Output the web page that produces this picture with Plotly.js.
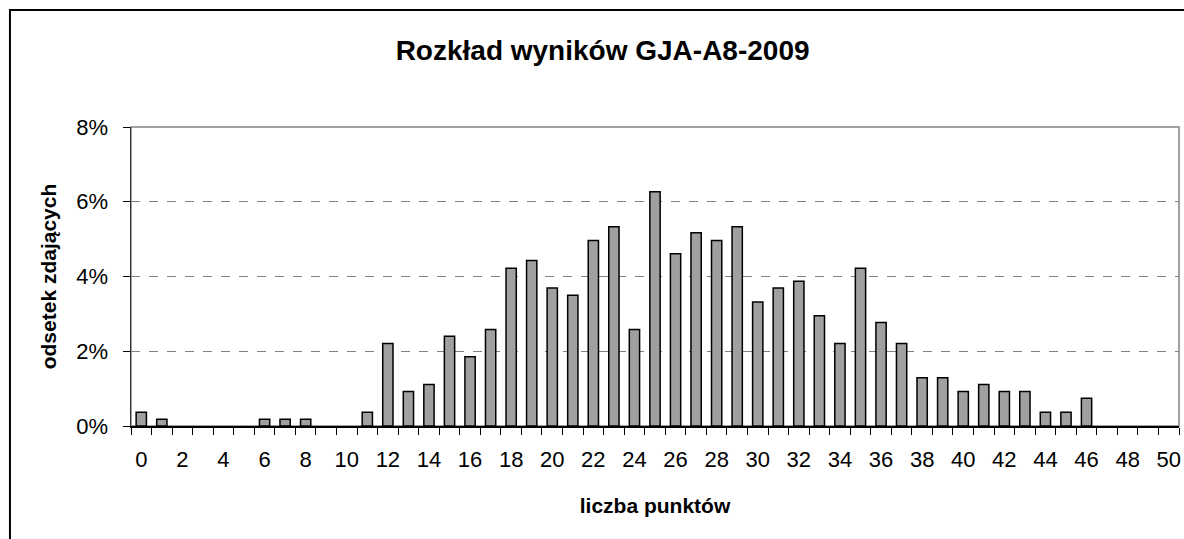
<!DOCTYPE html>
<html>
<head>
<meta charset="utf-8">
<script src="https://cdn.plot.ly/plotly-3.0.1.min.js"></script>
<style>
  body { margin: 0; background: #fff; }
  #chart { width: 1184px; height: 539px; }
</style>
</head>
<body>
<div id="chart"></div>
<script>
// liczba punktów 0..50
var points = ['0','1','2','3','4','5','6','7','8','9','10','11','12','13','14','15','16','17','18','19','20',
  '21','22','23','24','25','26','27','28','29','30','31','32','33','34','35','36','37','38','39','40',
  '41','42','43','44','45','46','47','48','49','50'];
// odsetek zdajacych (%)
var share = [0.37, 0.18, 0, 0, 0, 0, 0.18, 0.18, 0.18, 0, 0, 0.37, 2.21, 0.92, 1.11, 2.4, 1.85,
  2.58, 4.22, 4.43, 3.69, 3.5, 4.96, 5.33, 2.58, 6.27, 4.61, 5.17, 4.96, 5.33, 3.32, 3.69, 3.87,
  2.95, 2.21, 4.22, 2.77, 2.21, 1.29, 1.29, 0.92, 1.11, 0.92, 0.92, 0.37, 0.37, 0.74, 0, 0, 0, 0];
var xTickLabels = ['0','2','4','6','8','10','12','14','16','18','20','22','24','26','28','30',
  '32','34','36','38','40','42','44','46','48','50'];
var yTicks = [0, 0.02, 0.04, 0.06, 0.08];

var font = 'Arial, "Liberation Sans", sans-serif';

var data = [{
  type: 'bar',
  x: points,
  y: share.map(v => v / 100),
  marker: {
    color: '#a0a0a0',
    // no outline on empty bars, Excel draws nothing there
    line: {color: '#000', width: share.map(v => v > 0 ? 1.5 : 0)}
  },
  hoverinfo: 'x+y'
}];

var layout = {
  width: 1184,
  height: 539,
  margin: {l: 131, r: 5, t: 127, b: 113},
  paper_bgcolor: '#fff',
  plot_bgcolor: '#fff',
  font: {family: font, size: 22, color: '#000'},
  showlegend: false,
  bargap: 0.5,
  title: {
    text: '<b>Rozkład wyników GJA-A8-2009</b>',
    font: {family: font, size: 28, color: '#000'},
    x: 0.45, xref: 'paper', xanchor: 'center',
    y: 0.907, yref: 'container', yanchor: 'middle'
  },
  xaxis: {
    type: 'category',
    tickmode: 'array',
    tickvals: points,
    ticktext: points.map(p => xTickLabels.indexOf(p) >= 0 ? p : ''),
    tickangle: 0,
    tickson: 'boundaries',
    ticks: 'outside',
    ticklen: 7,
    tickcolor: '#000',
    ticklabelstandoff: 13,
    showgrid: false,
    showline: true,
    linecolor: '#000',
    linewidth: 1.5,
    tickfont: {size: 22},
    title: {text: '<b>liczba punktów</b>', font: {size: 21}, standoff: 27}
  },
  yaxis: {
    range: [0, 0.08],
    tickmode: 'array',
    tickvals: yTicks,
    tickformat: '.0%',
    ticks: 'outside',
    ticklen: 7,
    tickcolor: '#000',
    ticklabelstandoff: 10,
    showgrid: true,
    gridcolor: '#808080',
    griddash: 'dash',
    gridwidth: 1,
    zeroline: false,
    showline: true,
    linecolor: '#333',
    linewidth: 1.5,
    tickfont: {size: 22},
    title: {text: '<b>odsetek zdających</b>', font: {size: 21}, standoff: 14}
  },
  shapes: [
    // plot area frame
    {type: 'rect', xref: 'paper', yref: 'paper', x0: 0, x1: 1, y0: 0, y1: 1,
     line: {color: '#808080', width: 1.5}, layer: 'below'},
    // outer chart border
    {type: 'rect', xref: 'paper', yref: 'paper', x0: -0.1155, x1: 1.02, y0: -0.4, y1: 1.391,
     line: {color: '#000', width: 2}}
  ]
};

Plotly.newPlot('chart', data, layout, {displayModeBar: false, staticPlot: true});
</script>
</body>
</html>
